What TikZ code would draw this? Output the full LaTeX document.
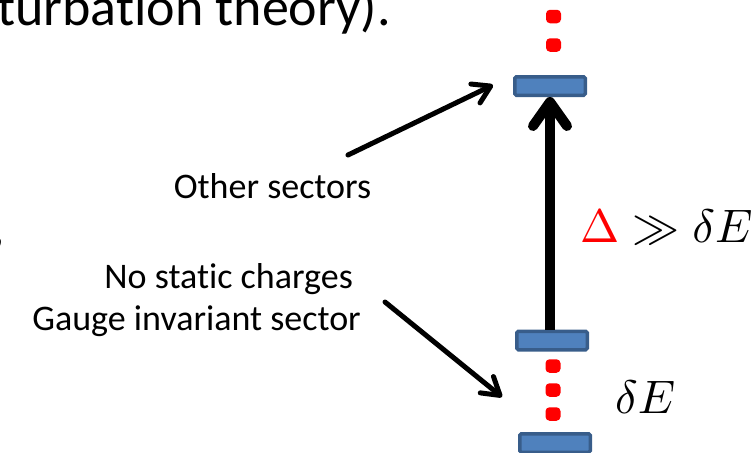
\documentclass[tikz,border=0pt]{standalone}
\usepackage{graphicx}
\usepackage{fontspec}
\setmainfont[Ligatures=NoCommon]{Carlito}
\usetikzlibrary{arrows.meta}
\definecolor{lvlfill}{RGB}{79,129,189}
\definecolor{lvldraw}{RGB}{56,93,138}
\begin{document}
\begin{tikzpicture}[x=1pt,y=-1pt,
  lvlbox/.style={draw=lvldraw, fill=lvlfill, line width=3.5pt, rounded corners=1.5pt,
    minimum width=70.5pt, minimum height=18.5pt, inner sep=0pt},
  reddot/.style={fill=red, rounded corners=4pt, minimum width=15pt, minimum height=13.5pt, inner sep=0pt},
  label/.style={inner sep=0pt, font=\fontsize{36}{43}\selectfont},
  bigtext/.style={inner sep=0pt, font=\fontsize{54}{65}\selectfont},
  mathtext/.style={inner sep=0pt},
  pointer/.style={line width=5pt, line cap=round, -{Straight Barb[length=17pt,width=21pt,round]}},
  gap/.style={line width=10pt, -{Straight Barb[length=24pt,width=34pt,round]}}
]
\useasboundingbox (0,0) rectangle (756,453);
\clip (0,0) rectangle (756,453);

% clipped body text
\node[bigtext, anchor=base west] (body) at (-3,25) {turbation theory).};
\node[bigtext, anchor=base west] (comma) at (-8.5,244) {,};

% energy levels
\node[lvlbox] (top) at (550,86) {};
\node[lvlbox] (mid) at (552,340.5) {};
\node[lvlbox] (bot) at (555,443) {};

% red dots
\node[reddot] (u1) at (553.5,16.5) {};
\node[reddot] (u2) at (553.5,45) {};
\node[reddot] (d1) at (553,366) {};
\node[reddot] (d2) at (553,390) {};
\node[reddot] (d3) at (553,414) {};

% gap arrow
\draw[gap] (top.south |- mid.north) -- (top.south);

% labels
\node[label, anchor=base] (other) at (272.5,198) {Other sectors};
\node[label, anchor=base east] (nostatic) at (353,288) {No static charges};
\node[label, anchor=base east] (gauge) at (361,330) {Gauge invariant sector};

\node[mathtext, anchor=base west] (gapeq) at (580,242) {\scalebox{4.7}{$\textcolor{red}{\Delta}\gg\delta E$}};
\node[mathtext, anchor=base west] (split) at (615,413) {\scalebox{4.7}{$\delta E$}};

% pointers
\coordinate (p1s) at (348,155);
\coordinate (p1e) at (493,85);
\coordinate (p2s) at (385,302);
\coordinate (p2e) at (502,397);
\draw[pointer] (p1s) -- (p1e);
\draw[pointer] (p2s) -- (p2e);
\end{tikzpicture}
\end{document}
